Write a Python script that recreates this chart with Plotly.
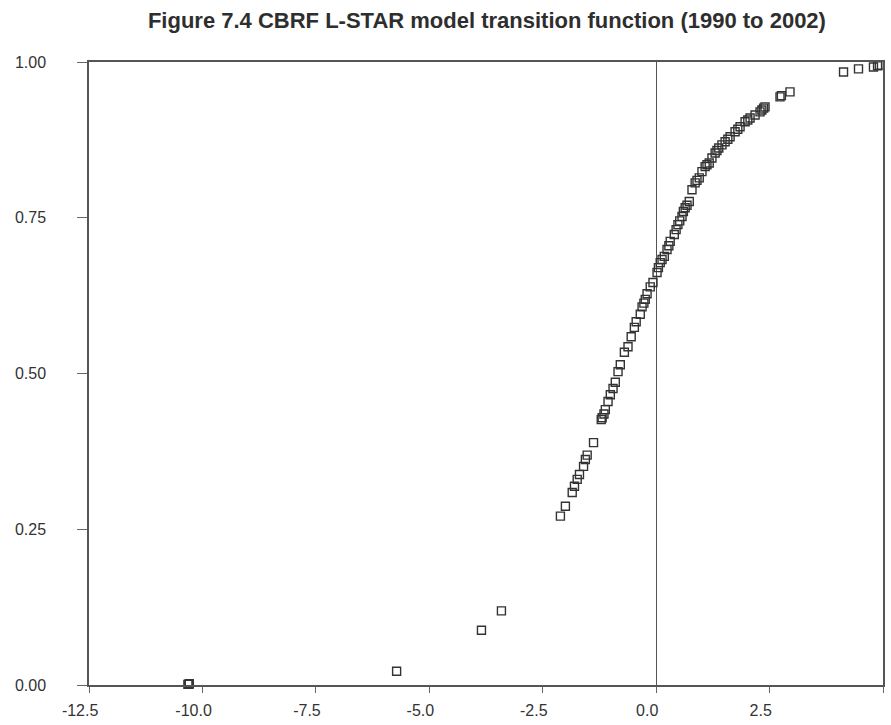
import plotly.graph_objects as go

# Transition variable (s) and transition function value G(s)
s_values = [
    -10.32, -10.30, -10.29,
    -5.72, -3.85, -3.41,
    -2.11, -2.00, -1.85, -1.80, -1.74, -1.69, -1.60, -1.56, -1.52, -1.38,
    -1.21, -1.19, -1.15, -1.12, -1.06, -1.01, -0.95, -0.90, -0.84, -0.79,
    -0.70, -0.62, -0.55, -0.48, -0.44, -0.35, -0.31, -0.27, -0.24, -0.20,
    -0.13, -0.07, 0.02, 0.05, 0.09, 0.13, 0.18, 0.24, 0.28, 0.31, 0.40,
    0.44, 0.48, 0.52, 0.57, 0.60, 0.64, 0.68, 0.73, 0.79, 0.86, 0.90,
    0.95, 1.01, 1.08, 1.12, 1.17, 1.23, 1.30, 1.34, 1.38, 1.45, 1.52,
    1.58, 1.63, 1.74, 1.80, 1.85, 1.96, 2.02, 2.07, 2.18, 2.29, 2.33,
    2.37, 2.40, 2.73, 2.76, 2.95, 4.13, 4.46, 4.79, 4.88, 4.92,
]
g_values = [
    0.001, 0.001, 0.002,
    0.022, 0.088, 0.119,
    0.271, 0.287, 0.309, 0.319, 0.330, 0.338, 0.351, 0.362, 0.369, 0.389,
    0.426, 0.429, 0.435, 0.442, 0.455, 0.466, 0.476, 0.486, 0.503, 0.514,
    0.534, 0.543, 0.559, 0.574, 0.583, 0.595, 0.607, 0.613, 0.619, 0.628,
    0.639, 0.646, 0.662, 0.670, 0.678, 0.683, 0.688, 0.699, 0.705, 0.712, 0.723,
    0.731, 0.739, 0.745, 0.752, 0.760, 0.766, 0.770, 0.776, 0.795, 0.806, 0.810,
    0.814, 0.824, 0.832, 0.835, 0.838, 0.846, 0.854, 0.858, 0.862, 0.867, 0.872,
    0.876, 0.880, 0.888, 0.892, 0.896, 0.904, 0.907, 0.910, 0.915, 0.920, 0.923,
    0.926, 0.928, 0.944, 0.946, 0.952, 0.984, 0.989, 0.992, 0.994, 0.995,
]

x_ticks = [-12.5, -10.0, -7.5, -5.0, -2.5, 0.0, 2.5, 5.0]
y_ticks = [0.0, 0.25, 0.5, 0.75, 1.0]

pad = "\u00a0" * 4
x_tick_text = [f"{v:.1f}{pad}" for v in x_ticks]
y_tick_text = [f"{v:.2f}" for v in y_ticks]

fig = go.Figure(
    go.Scatter(
        x=s_values,
        y=g_values,
        mode="markers",
        marker=dict(symbol="square-open", size=8, color="#333333",
                    line=dict(width=1.4, color="#333333")),
        showlegend=False,
        cliponaxis=False,
    )
)

axis_font = dict(family="Liberation Sans, Arial, sans-serif", size=16, color="#333333")

fig.update_layout(
    width=891,
    height=725,
    margin=dict(l=89, r=6, t=62, b=39),
    paper_bgcolor="white",
    plot_bgcolor="white",
    title=dict(
        text="<b>Figure 7.4 CBRF L-STAR model transition function (1990 to 2002)</b>",
        x=0.5465, xanchor="center", xref="container",
        y=1 - 20 / 725, yanchor="middle", yref="container",
        font=dict(family="Liberation Sans, Arial, sans-serif", size=22, color="#2e2e2e"),
    ),
    xaxis=dict(
        range=[-12.5, 5.0],
        tickvals=x_ticks,
        ticktext=x_tick_text,
        ticks="outside", ticklen=6, tickwidth=1, tickcolor="#666666",
        showgrid=False,
        zeroline=True, zerolinecolor="#555555", zerolinewidth=1,
        showline=True, linecolor="#555555", linewidth=1.5, mirror=True,
        tickfont=axis_font,
        ticklabelstandoff=4,
    ),
    yaxis=dict(
        range=[0, 1.0],
        tickvals=y_ticks,
        ticktext=y_tick_text,
        ticks="outside", ticklen=10, tickwidth=1, tickcolor="#666666",
        showgrid=False,
        zeroline=False,
        showline=True, linecolor="#555555", linewidth=1.5, mirror=True,
        tickfont=axis_font,
        ticklabelstandoff=28,
    ),
)

fig.write_html("out.html")
